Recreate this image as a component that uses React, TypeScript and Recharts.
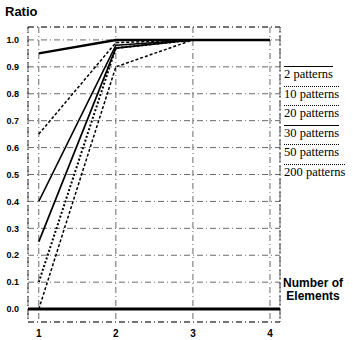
import React from 'react';
import { LineChart, Line, XAxis, YAxis, CartesianGrid, ReferenceLine, ReferenceArea, Legend } from 'recharts';

const elements = [1, 2, 3, 4];
const seriesNames = ['2 patterns', '10 patterns', '20 patterns', '30 patterns', '50 patterns', '200 patterns'];
const p2 = [0.95, 1.0, 1.0, 1.0];
const p10 = [0.65, 0.99, 1.0, 1.0];
const p20 = [0.4, 0.98, 1.0, 1.0];
const p30 = [0.25, 0.97, 1.0, 1.0];
const p50 = [0.1, 0.97, 1.0, 1.0];
const p200 = [0.0, 0.9, 1.0, 1.0];
const yTicks = [0, 0.1, 0.2, 0.3, 0.4, 0.5, 0.6, 0.7, 0.8, 0.9, 1.0];

const data = elements.map((e, i) => ({
  n: e,
  s0: p2[i],
  s1: p10[i],
  s2: p20[i],
  s3: p30[i],
  s4: p50[i],
  s5: p200[i],
}));

const styles = [
  { width: 2.5, dash: undefined, legend: 'solid' },
  { width: 1.5, dash: '3 2', legend: 'dotted' },
  { width: 1.5, dash: undefined, legend: 'dotted' },
  { width: 1.8, dash: undefined, legend: 'solid' },
  { width: 2, dash: '2 2', legend: 'dotted' },
  { width: 1.5, dash: '3 2', legend: 'dotted' },
];

const sans = '"Liberation Sans", Arial, sans-serif';
const serif = '"Liberation Serif", "Times New Roman", serif';

const LegendContent = () => (
  <div style={{ fontFamily: serif, fontSize: 12.5, color: '#000' }}>
    {seriesNames.map((name, i) => (
      <div
        key={name}
        style={{
          borderTop: `1px ${styles[i].legend} #000`,
          width: 'fit-content',
          lineHeight: '13px',
          height: 19.6,
          paddingTop: 1,
          boxSizing: 'border-box',
        }}
      >
        {name}
      </div>
    ))}
  </div>
);

export default function App() {
  return (
    <div style={{ position: 'absolute', left: 0, top: 0, width: 353, height: 340, background: '#fff' }}>
      <div style={{ position: 'absolute', left: 5, top: 4, fontFamily: sans, fontWeight: 'bold', fontSize: 13 }}>Ratio</div>
      <div
        style={{
          position: 'absolute',
          left: 283,
          top: 277,
          fontFamily: sans,
          fontWeight: 'bold',
          fontSize: 12,
          lineHeight: '13px',
          textAlign: 'center',
        }}
      >
        Number of
        <br />
        Elements
      </div>
      <LineChart width={353} height={340} data={data} margin={{ top: 27, right: 73, bottom: 0, left: 0 }}>
        <CartesianGrid stroke="#444" strokeDasharray="6 3 1 3" strokeWidth={0.8} />
        <ReferenceArea x1={0.86} x2={4.13} y1={-0.048} y2={1.048} fill="none" stroke="#333" strokeDasharray="6 3 1 3" />
        <XAxis
          dataKey="n"
          type="number"
          domain={[0.86, 4.13]}
          ticks={elements}
          height={18}
          axisLine={false}
          tickLine={false}
          tick={{ fill: '#000', fontSize: 10, fontWeight: 'bold', fontFamily: sans }}
          tickMargin={2}
        />
        <YAxis
          type="number"
          domain={[-0.048, 1.048]}
          ticks={yTicks}
          width={28}
          axisLine={false}
          tickLine={false}
          tickFormatter={(v: number) => v.toFixed(1)}
          tick={{ fill: '#000', fontSize: 9, fontWeight: 'bold', fontFamily: sans }}
          tickMargin={3}
        />
        <ReferenceLine y={0} stroke="#000" strokeWidth={3} />
        <Legend
          layout="horizontal"
          align="center"
          verticalAlign="middle"
          content={<LegendContent />}
          wrapperStyle={{ left: 284, top: 66, width: 69 }}
        />
        {seriesNames.map((name, i) => (
          <Line
            key={name}
            type="linear"
            dataKey={`s${i}`}
            name={name}
            stroke="#000"
            strokeWidth={styles[i].width}
            strokeDasharray={styles[i].dash}
            dot={false}
            isAnimationActive={false}
          />
        ))}
      </LineChart>
    </div>
  );
}
